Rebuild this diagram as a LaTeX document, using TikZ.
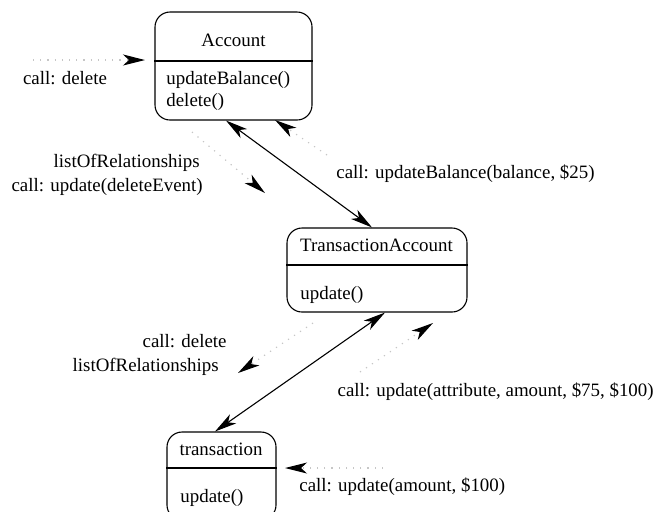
\documentclass[tikz,border=0pt]{standalone}
\usepackage{fontspec}
\setmainfont{Liberation Serif}
\newfontfamily\tmsfont{Liberation Serif}
\usetikzlibrary{arrows.meta,calc}
\begin{document}
\begin{tikzpicture}[x=0.5pt,y=-0.5pt,
  box/.style={draw, line width=0.55pt, rounded corners=7.5pt, inner sep=0pt},
  lbl/.style={font=\tmsfont\fontsize{9.45}{11}\selectfont, inner sep=0pt, text height=6.7pt, text depth=1.9pt},
  tipx/.tip={Stealth[length=11pt,width=5.5pt,inset=3pt,color=black]},
  link/.style={line width=0.55pt, tipx-tipx},
  msg/.style={draw=gray!45, line width=0.6pt, dash pattern=on 0.6pt off 3pt, -tipx}]
\useasboundingbox (0,0) rectangle (656,511);

% boxes
\node[box, minimum width=78.5pt, minimum height=54pt] (acc) at (233.5,66) {};
\node[box, minimum width=90pt, minimum height=42pt] (ta) at (377,270) {};
\node[box, minimum width=54.5pt, minimum height=44pt] (tr) at (221.5,476) {};

\coordinate (accdiv) at (0,61);
\coordinate (tadiv) at (0,265);
\coordinate (trdiv) at (0,468);
\draw[line width=0.55pt] (acc.west |- accdiv) -- (acc.east |- accdiv);
\draw[line width=0.55pt] (ta.west |- tadiv) -- (ta.east |- tadiv);
\draw[line width=0.55pt] (tr.west |- trdiv) -- (tr.east |- trdiv);

% box texts
\node[lbl] (accname) at (233.5,42) {Account};
\node[lbl, anchor=west] (accm1) at (166,80) {updateBalance()};
\node[lbl, anchor=west] (accm2) at (166,102) {delete()};
\node[lbl] (taname) at (376.5,247) {TransactionAccount};
\node[lbl, anchor=west] (tam1) at (300,295) {update()};
\node[lbl] (trname) at (221,451) {transaction};
\node[lbl, anchor=west] (trm1) at (180,498) {update()};

% solid links
\draw[link] ([xshift=-3.75pt]acc.south) -- ([xshift=-2.5pt]ta.north);
\draw[link] ([xshift=4pt]ta.south) -- ([xshift=-3.25pt]tr.north);

% messages
\coordinate (m1s) at (33,60);   \coordinate (m1e) at (145,60);
\coordinate (m2s) at (192,132); \coordinate (m2e) at (265,193);
\coordinate (m3s) at (327,155); \coordinate (m3e) at (275,120);
\coordinate (m4s) at (313,323); \coordinate (m4e) at (238,373);
\coordinate (m5s) at (360,372); \coordinate (m5e) at (433,323);
\coordinate (m6s) at (383,468); \coordinate (m6e) at (285,468);
\draw[msg] (m1s) -- (m1e);
\draw[msg] (m2s) -- (m2e);
\draw[msg] (m3s) -- (m3e);
\draw[msg] (m4s) -- (m4e);
\draw[msg] (m5s) -- (m5e);
\draw[msg] (m6s) -- (m6e);

% labels
\node[lbl] (l1) at (65,80) {call: delete};
\node[lbl, anchor=east] (l2) at (200,163) {listOfRelationships};
\node[lbl, anchor=east] (l3) at (203,187) {call: update(deleteEvent)};
\node[lbl, anchor=west] (l4) at (336,174) {call: updateBalance(balance, \$25)};
\node[lbl, anchor=east] (l5) at (227,343) {call: delete};
\node[lbl, anchor=east] (l6) at (219,367) {listOfRelationships};
\node[lbl, anchor=east] (l7) at (654,392) {call: update(attribute, amount, \$75, \$100)};
\node[lbl, anchor=west] (l8) at (299,487) {call: update(amount, \$100)};
\end{tikzpicture}
\end{document}
